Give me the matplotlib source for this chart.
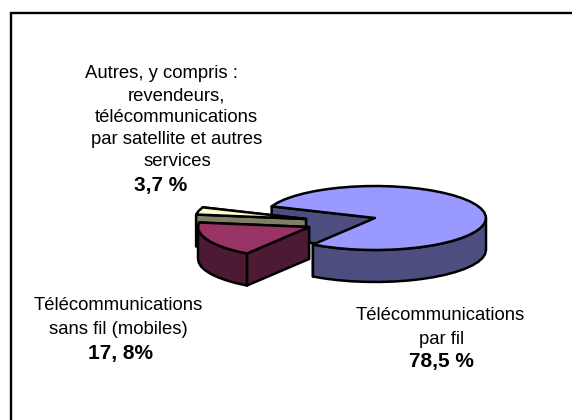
import numpy as np
import matplotlib
matplotlib.use("Agg")
import matplotlib.pyplot as plt
from matplotlib.patches import Polygon

plt.rcParams['font.family'] = ['Liberation Sans', 'DejaVu Sans']

# share of each segment, in percent
labels = ['Télécommunications par fil', 'Autres', 'Mobiles']
values = [78.5, 3.7, 17.8]

W, H = 572, 420
CX, CY = 375, 218      # pie centre in pixels
RX, RY = 111, 32
DEPTH = 32 / RY
START = 236

top_colors = ['#9999ff', '#ffffcc', '#993366']
side_colors = ['#4d4d80', '#808066', '#4d1a33']
# pixel offset of the pulled out slices
offsets = [(0, 0), (-69, -1), (-66, -9)]


def arc(t0, t1, ox, oy):
    n = max(int((t1 - t0) / 7), 2)
    t = np.radians(np.linspace(t0, t1, n + 1))
    return np.cos(t) + ox, np.sin(t) + oy


def face(ax, pts, color, z):
    ax.add_patch(Polygon(pts, closed=True, facecolor=color, edgecolor='black',
                         linewidth=1.8, joinstyle='round', zorder=z))


fig = plt.figure(figsize=(W / 100, H / 100), dpi=100)
ax = fig.add_axes([0, 0, 1, 1])
ax.set_xlim(-CX / RX, (W - CX) / RX)
ax.set_ylim((CY - H) / RY, CY / RY)
ax.axis('off')

# frame, only top and left show in the crop
fx, fy = (11 - CX) / RX, (CY - 13.5) / RY
ax.plot([(W - CX) / RX, fx, fx], [fy, fy, (CY - H) / RY], color='black', lw=1.7,
        solid_joinstyle='miter', zorder=0)

edges = START + np.cumsum([0] + values) * 3.6
for i, z in [(0, 1), (1, 10), (2, 20)]:
    t0, t1 = edges[i], edges[i + 1]
    ox, oy = offsets[i][0] / RX, offsets[i][1] / RY
    x, y = arc(t0, t1, ox, oy)

    # cut faces of the slice
    for xe, ye in [(x[0], y[0]), (x[-1], y[-1])]:
        face(ax, [(ox, oy), (xe, ye), (xe, ye - DEPTH), (ox, oy - DEPTH)],
             side_colors[i], z)

    # outer wall, only the part that looks to the front
    for k in (0, 360):
        a, b = max(t0, 180 + k), min(t1, 360 + k)
        if a < b:
            xa, ya = arc(a, b, ox, oy)
            wall = list(zip(xa, ya)) + list(zip(xa[::-1], ya[::-1] - DEPTH))
            face(ax, wall, side_colors[i], z + 1)

    face(ax, [(ox, oy)] + list(zip(x, y)), top_colors[i], z + 2)


def label(px, py, text, **kw):
    fig.text(px / W, 1 - (py + 1) / H, text, ha='center', va='center', color='black',
             fontsize=kw.pop('fontsize', 13.3), **kw)


label(161, 72, 'Autres, y compris :')
label(176, 95, 'revendeurs,')
label(176, 117, 'télécommunications')
label(177, 139, 'par satellite et autres')
label(177, 161, 'services')
label(161, 185, '3,7 %', fontweight='bold', fontsize=15)
label(118, 305, 'Télécommunications')
label(118, 329, 'sans fil (mobiles)')
label(120, 352, '17, 8%', fontweight='bold', fontsize=15)
label(440, 315, 'Télécommunications')
label(442, 338, 'par fil')
label(441, 361, '78,5 %', fontweight='bold', fontsize=15)

fig.savefig('out.png', dpi=100)
